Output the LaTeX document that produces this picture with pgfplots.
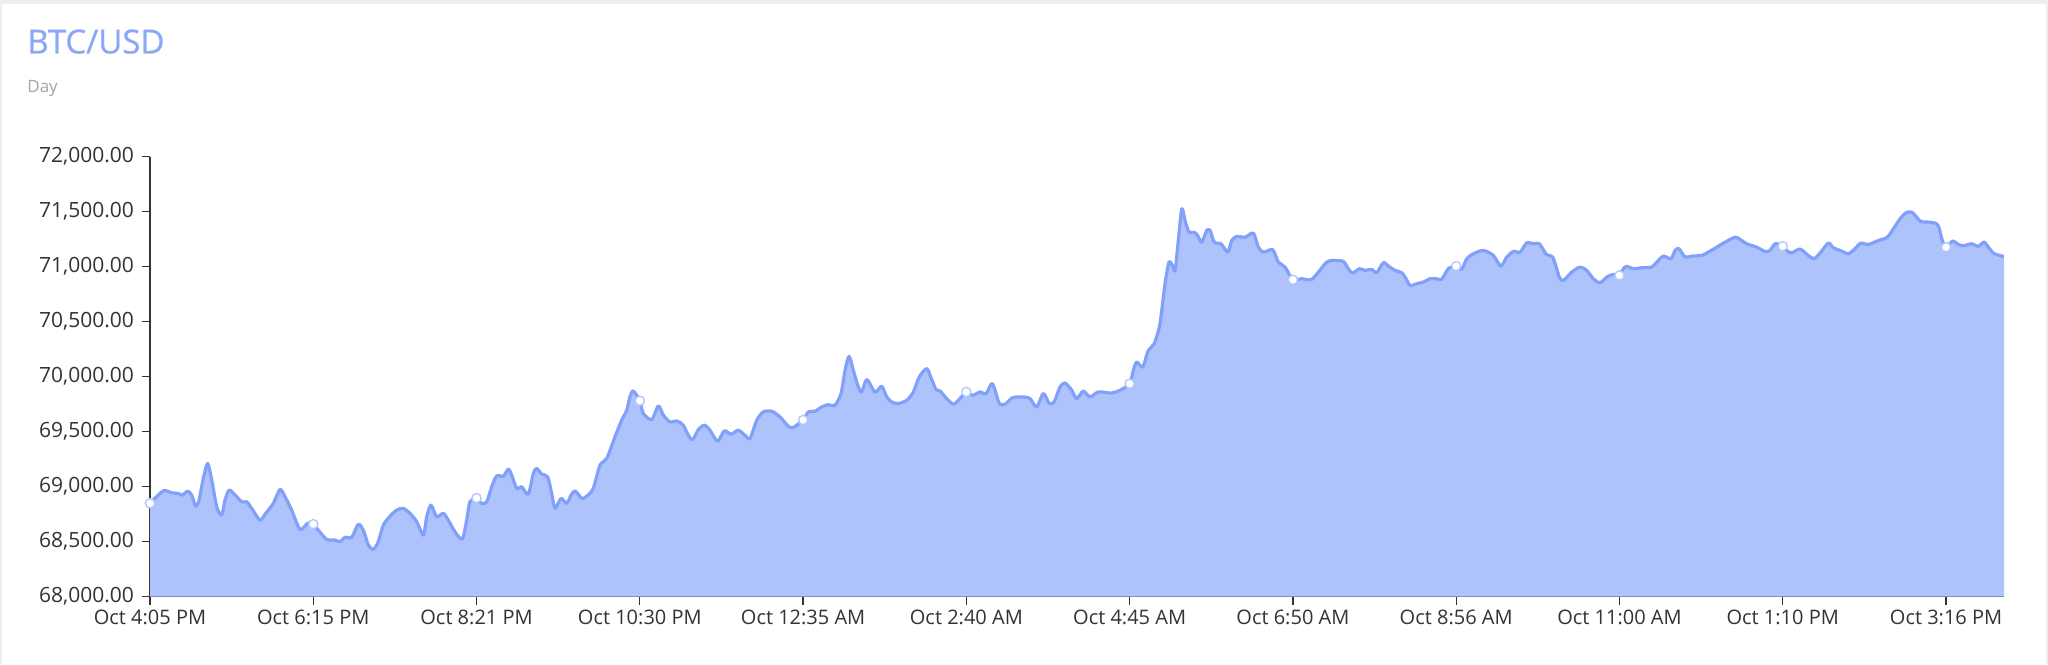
\documentclass[border=0pt]{standalone}
\usepackage{pgfplots}
\pgfplotsset{compat=1.18}
\usepackage{pgfplotstable}
\usepackage{fontspec}
\setmainfont{Open Sans}
\newfontfamily\titlefont[FakeBold=0.7]{Open Sans}
\definecolor{linecol}{RGB}{128,160,250}
\definecolor{fillcol}{RGB}{174,195,252}
\definecolor{titlecol}{RGB}{138,168,248}
\definecolor{subcol}{RGB}{165,165,165}
\definecolor{axiscol}{RGB}{51,51,51}
\definecolor{markcol}{RGB}{180,200,252}
\definecolor{framecol}{RGB}{238,238,238}

\pgfplotstableread{
t v
0 68847
10.3 68961
16.8 68943
21.9 68937
25.0 68922
29.2 68958
32.3 68922
35.4 68822
38.0 68876
41.3 69074
44.7 69210
47.8 69058
51.7 68816
55.5 68740
58.1 68876
61.2 68967
65.3 68931
71.0 68861
74.9 68861
78.8 68801
85.2 68695
89.6 68756
95.5 68847
100.7 68974
104.6 68906
109.7 68786
116.2 68610
122.1 68665
126.5 68658
130.3 68604
136.9 68519
143.3 68513
147.2 68498
151.0 68538
156.2 68538
161.3 68656
165.2 68604
169.1 68468
172.9 68428
176.8 68498
180.7 68649
185.9 68730
191.1 68786
196.2 68801
201.4 68756
206.6 68680
211.7 68559
214.3 68725
217.6 68831
222.0 68725
227.2 68756
231.0 68695
236.2 68589
241.9 68522
245.3 68695
247.8 68861
252.9 68895
256.9 68847
260.8 68861
264.6 68997
268.5 69097
273.6 69094
277.5 69158
280.1 69104
284.0 68983
287.9 68997
293.0 68931
296.9 69119
299.5 69164
303.4 69113
308.0 69088
311.1 68937
313.7 68801
318.3 68892
322.7 68847
326.1 68922
329.2 68961
334.4 68892
338.2 68913
343.3 68983
348.5 69194
353.7 69255
360.1 69451
365.3 69603
369.2 69694
371.8 69820
374.3 69869
379.4 69780
382.1 69664
388.6 69609
393.7 69733
397.6 69649
402.7 69588
407.9 69597
413.0 69558
416.9 69467
420.3 69428
424.7 69518
429.3 69558
433.7 69512
437.6 69437
440.2 69415
444.8 69506
450.0 69476
455.6 69512
460.8 69467
464.7 69437
469.9 69603
475.0 69679
481.5 69685
487.9 69633
494.4 69549
498.2 69537
505.8 69605
509.9 69679
515.0 69685
520.2 69724
525.3 69745
530.5 69739
535.2 69846
538.3 70057
541.4 70184
544.7 70057
548.6 69906
551.2 69860
555.1 69973
561.5 69860
566.7 69912
570.6 69815
574.4 69769
579.6 69755
586.1 69785
591.2 69860
595.8 69997
601.5 70073
604.6 69997
608.8 69882
611.9 69869
617.0 69800
622.2 69749
627.3 69800
632.2 69860
637.2 69830
642.8 69860
647.5 69846
651.9 69937
654.5 69876
657.8 69755
662.2 69749
668.2 69809
676.4 69815
681.6 69800
686.7 69724
691.9 69846
696.5 69755
700.2 69769
704.8 69906
708.7 69942
713.9 69876
717.7 69800
722.8 69869
728.0 69815
734.5 69860
744.8 69851
751.3 69876
758.7 69935
761.6 70057
764.2 70133
768.8 70087
773.2 70239
777.8 70300
782.2 70482
786.1 70845
789.2 71041
791.8 71011
793.9 70966
796.4 71238
799.1 71526
801.6 71420
804.7 71313
808.6 71313
811.4 71283
814.5 71222
818.4 71329
821.0 71329
824.3 71222
829.5 71208
834.7 71132
837.8 71238
841.6 71274
848.1 71268
854.5 71305
858.4 71177
862.3 71132
869.5 71154
873.9 71041
879.1 70996
885.1 70881
892.0 70890
899.2 70881
904.9 70950
911.3 71041
916.5 71057
924.2 71047
928.1 70981
931.5 70941
936.6 70981
941.0 70966
946.2 70975
950.1 70945
955.2 71036
959.1 71005
964.3 70966
969.4 70945
972.8 70890
975.9 70829
981.1 70845
986.2 70860
991.4 70890
996.5 70890
1000.4 70884
1005.5 70981
1011.6 71005
1015.9 70975
1019.8 71072
1024.9 71117
1032.6 71147
1040.4 71102
1046.1 71005
1050.8 71087
1055.9 71138
1061.1 71132
1066.3 71217
1071.4 71208
1076.0 71208
1081.7 71108
1086.4 71087
1091.5 70905
1094.6 70875
1101.1 70950
1107.5 70996
1112.7 70966
1117.8 70890
1123.0 70854
1128.2 70905
1133.3 70929
1138.0 70920
1141.1 70981
1143.7 71002
1148.8 70981
1155.3 70990
1163.1 70996
1166.9 71041
1172.1 71096
1178.0 71072
1181.1 71147
1184.2 71163
1188.9 71087
1194.0 71096
1201.8 71102
1206.9 71132
1213.4 71177
1219.8 71222
1227.6 71268
1231.5 71247
1236.6 71208
1244.4 71177
1250.8 71138
1254.7 71147
1258.6 71208
1264.5 71186
1267.6 71147
1271.5 71126
1277.9 71160
1284.3 71102
1288.8 71072
1293.4 71123
1299.8 71214
1303.7 71172
1310.2 71141
1315.3 71117
1320.5 71163
1324.9 71214
1330.8 71202
1338.6 71238
1345.5 71268
1350.2 71344
1355.4 71435
1360.0 71490
1364.4 71496
1368.3 71450
1371.4 71411
1377.3 71405
1383.8 71390
1385.8 71344
1387.7 71253
1389.5 71193
1391.0 71177
1396.2 71232
1400.5 71202
1404.4 71190
1410.9 71208
1416.0 71184
1420.4 71223
1423.8 71177
1427.6 71123
1432.3 71102
1435.9 71093
}\pricedata

\pgfplotstableread{
t v
0 68847
126.45 68658
252.9 68895
379.35 69780
505.8 69605
632.25 69860
758.7 69935
885.15 70881
1011.6 71005
1138.05 70920
1264.5 71186
1391 71177
}\markdata

\begin{document}
\begin{tikzpicture}
\useasboundingbox (0,0) rectangle (1024pt,332pt);
\fill[framecol] (0,0) rectangle (1024pt,332pt);
\fill[white] (0.75pt,0) rectangle (1023pt,330pt);
\node[anchor=base west, inner sep=0pt, text=titlecol, font=\titlefont\fontsize{16.5}{19}\selectfont] at (13.5pt,305.3pt) {BTC/USD};
\node[anchor=base west, inner sep=0pt, text=subcol, font=\fontsize{8.5}{10}\selectfont] at (13.5pt,285.6pt) {Day};
\begin{axis}[
  at={(75pt,33.75pt)}, anchor=south west,
  scale only axis, width=927pt, height=219.9pt,
  xmin=0, xmax=1435.9, ymin=68000, ymax=72000,
  scaled y ticks=false, scaled x ticks=false,
  axis x line=bottom, axis y line=left,
  axis line style={-, draw=axiscol, line width=0.7pt},
  tick style={draw=axiscol, line width=0.6pt},
  tick align=outside, major tick length=4pt,
  xtick={0,126.45,252.9,379.35,505.8,632.25,758.7,885.15,1011.6,1138.05,1264.5,1391},
  xticklabels={Oct 4:05 PM,Oct 6:15 PM,Oct 8:21 PM,Oct 10:30 PM,Oct 12:35 AM,Oct 2:40 AM,Oct 4:45 AM,Oct 6:50 AM,Oct 8:56 AM,Oct 11:00 AM,Oct 1:10 PM,Oct 3:16 PM},
  ytick={68000,68500,69000,69500,70000,70500,71000,71500,72000},
  yticklabels={{68,000.00},{68,500.00},{69,000.00},{69,500.00},{70,000.00},{70,500.00},{71,000.00},{71,500.00},{72,000.00}},
  xticklabel style={font=\fontsize{10}{12}\selectfont, text=axiscol, yshift=1pt},
  yticklabel style={font=\fontsize{10.5}{12}\selectfont, text=axiscol, xshift=-0.5pt},
  clip mode=individual,
]
\addplot[smooth, tension=0.45, draw=none, fill=fillcol] table[x=t,y=v] {\pricedata} \closedcycle;
\addplot[smooth, tension=0.45, draw=linecol, line width=1.6pt, line join=round] table[x=t,y=v] {\pricedata};
\addplot[only marks, mark=*, mark size=2.3pt, mark options={fill=white, draw=markcol, line width=0.7pt}] table[x=t,y=v] {\markdata};
\end{axis}
\end{tikzpicture}
\end{document}
